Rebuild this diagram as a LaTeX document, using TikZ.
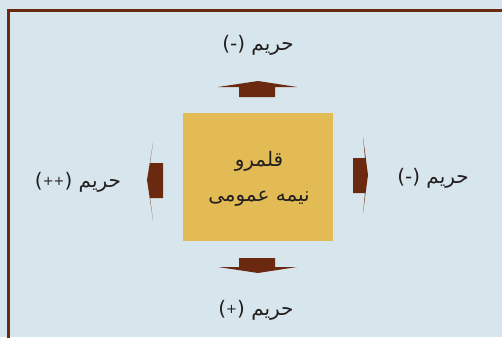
\documentclass[tikz,border=0pt]{standalone}
\usepackage{fontspec}
\TeXXeTstate=1
\newfontfamily\arabicfont[Script=Arabic]{DejaVu Sans}
\newfontfamily\latinfont{DejaVu Sans}
\definecolor{bgblue}{HTML}{D7E5EC}
\definecolor{brown}{HTML}{6B2A10}
\definecolor{boxyellow}{HTML}{E3BB55}
\definecolor{txt}{HTML}{231F20}
\newcommand{\smallpl}[1]{{\fontsize{13}{15}\selectfont\raisebox{1.5pt}{#1}}}
\tikzset{
  lbl/.style={text=txt, font=\arabicfont\fontsize{20}{35}\selectfont, inner sep=0pt},
  arrowshape/.style={fill=brown, draw=none},
}
\begin{document}
\begin{tikzpicture}[x=1pt,y=-1pt]
\fill[bgblue] (0,0) rectangle (502,337);
\useasboundingbox (0,0) rectangle (502,337);
\draw[brown, line width=3pt] (8.5,340) -- (8.5,10.5) -- (505,10.5);
% central box
\node[fill=boxyellow, minimum width=150pt, minimum height=128pt, inner sep=0pt] (box) at (257.5,177) {};
\node[lbl, align=center] (boxtext) at (259,179) {\beginR قلمرو\endR\\\beginR نیمه عمومی\endR};
% arrows
\fill[arrowshape] (239,97) -- (239,87) -- (218,87) -- (258,81) -- (297,87) -- (275,87) -- (275,97) -- cycle;
\fill[arrowshape] (239,258) -- (239,267) -- (218,267) -- (258,273) -- (297,267) -- (275,267) -- (275,258) -- cycle;
\fill[arrowshape] (163,163) -- (150,163) -- (153,143) -- (147,180) -- (153,220) -- (150,198) -- (163,198) -- cycle;
\fill[arrowshape] (353,158) -- (365,158) -- (363,137) -- (368,175) -- (363,213) -- (365,193) -- (353,193) -- cycle;
% labels
\node[lbl] (ltop) at (258,45) {{\latinfont(-)} \beginR حریم\endR};
\node[lbl] (lright) at (433,178) {{\latinfont(-)} \beginR حریم\endR};
\node[lbl] (lleft) at (78,182) {{\latinfont(\smallpl{++})} \beginR حریم\endR};
\node[lbl] (lbottom) at (256,310) {{\latinfont(\smallpl{+})} \beginR حریم\endR};
\end{tikzpicture}
\end{document}
